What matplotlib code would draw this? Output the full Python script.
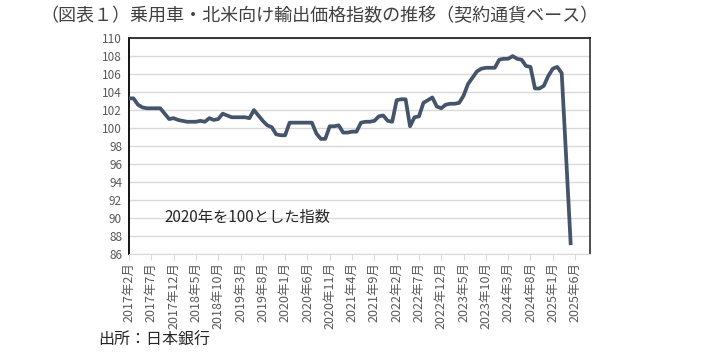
import matplotlib
matplotlib.use('Agg')
from matplotlib import pyplot as plt

plt.rcParams['font.family'] = ['Noto Sans CJK JP', 'DejaVu Sans']

# 2017年2月からの月次指数（2020年=100）
index_values = [
    103.3, 103.3, 102.6, 102.3, 102.2, 102.2, 102.2, 102.2, 101.6, 101.0,
    101.1, 100.9, 100.8, 100.7, 100.7, 100.7, 100.8, 100.7, 101.1, 100.9,
    101.0, 101.6, 101.4, 101.2, 101.2, 101.2, 101.2, 101.1, 102.0, 101.4,
    100.8, 100.3, 100.1, 99.3, 99.2, 99.2, 100.6, 100.6, 100.6, 100.6,
    100.6, 100.6, 99.4, 98.8, 98.8, 100.2, 100.2, 100.3, 99.5, 99.5,
    99.6, 99.6, 100.6, 100.7, 100.7, 100.8, 101.3, 101.4, 100.8, 100.7,
    103.1, 103.2, 103.2, 100.2, 101.2, 101.3, 102.8, 103.1, 103.4, 102.4,
    102.2, 102.6, 102.7, 102.7, 102.8, 103.6, 104.9, 105.6, 106.3, 106.6,
    106.7, 106.7, 106.7, 107.6, 107.7, 107.7, 108.0, 107.7, 107.6, 106.9,
    106.8, 104.4, 104.4, 104.7, 105.8, 106.6, 106.8, 106.1, 96.7, 87.2,
]

tick_labels = [
    '2017年2月', '2017年7月', '2017年12月', '2018年5月', '2018年10月',
    '2019年3月', '2019年8月', '2020年1月', '2020年6月', '2020年11月',
    '2021年4月', '2021年9月', '2022年2月', '2022年7月', '2022年12月',
    '2023年5月', '2023年10月', '2024年3月', '2024年8月', '2025年1月',
    '2025年6月',
]
y_ticks = list(range(86, 111, 2))

fig = plt.figure(figsize=(7.03, 3.56), dpi=100)
ax = fig.add_axes([0.1835, 0.2865, 0.6555, 0.6065])

ax.plot(range(len(index_values)), index_values, color='#44546A', lw=2.7,
        solid_joinstyle='round', zorder=3)

ax.set_xlim(0, 103.3)
ax.set_ylim(86, 110)
ax.set_yticks(y_ticks)
ax.set_yticklabels([str(v) for v in y_ticks], fontsize=8.5, color='#595959')
ax.set_xticks(range(0, 5 * len(tick_labels), 5))
ax.set_xticklabels(tick_labels, rotation=90, fontsize=9, color='#595959')
ax.tick_params(axis='y', length=0, pad=5)
ax.tick_params(axis='x', length=4, color='#d9d9d9', pad=2)

# 横の目盛線
ax.grid(axis='y', color='#d9d9d9', lw=1)
ax.set_axisbelow(True)

ax.spines['left'].set_color('black')
ax.spines['left'].set_linewidth(1.3)
ax.spines['top'].set_color('#262626')
ax.spines['top'].set_linewidth(1.3)
ax.spines['right'].set_color('#404040')
ax.spines['right'].set_linewidth(1.3)
ax.spines['bottom'].set_color('#d9d9d9')

ax.text(8, 90.1, '2020年を100とした指数', fontsize=11, color='#262626',
        va='center', ha='left')

fig.text(0.058, 0.955, '（図表１）乗用車・北米向け輸出価格指数の推移（契約通貨ベース）',
         fontsize=13, color='#404040', va='center', ha='left')
fig.text(0.14, 0.043, '出所：日本銀行', fontsize=11.5, color='#262626',
         va='center', ha='left')

fig.savefig('out.png', dpi=100)
